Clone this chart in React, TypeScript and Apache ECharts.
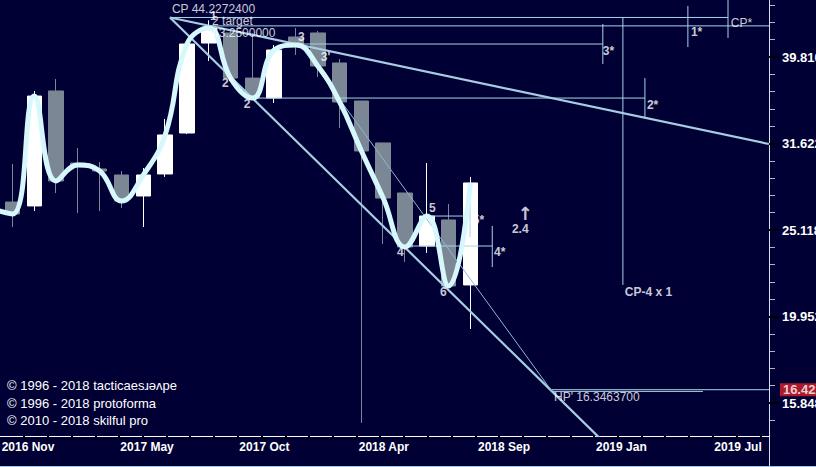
import React, { useEffect, useRef } from "react";
import * as echarts from "echarts";

// ---- candle data (4-week candles, index 0..21) ----
const candleIndex = [0, 1, 2, 3, 4, 5, 6, 7, 8, 9, 10, 11, 12, 13, 14, 15, 16, 17, 18, 19, 20, 21];
const opens = [27.06, 26.78, 36.37, 30.02, 29.55, 29.08, 27.5, 29.16, 32.52, 41.32, 42.44, 37.64, 35.69, 41.99, 42.44, 39.18, 35.41, 31.67, 27.72, 24.07, 25.8, 21.7];
const closes = [26.21, 35.88, 28.62, 29.86, 29.39, 27.14, 29.08, 32.35, 41.21, 43.0, 37.64, 35.69, 40.56, 41.1, 38.87, 35.32, 31.0, 27.35, 24.01, 26.07, 21.64, 28.47];
const lows = [25.32, 26.42, 27.72, 26.28, 26.42, 26.63, 25.32, 28.93, 32.43, 39.39, 37.45, 35.5, 35.22, 40.02, 37.75, 32.96, 15.03, 24.2, 23.07, 23.63, 21.59, 19.3];
const highs = [29.95, 36.37, 37.55, 31.25, 30.1, 29.39, 29.63, 33.76, 41.65, 43.9, 42.78, 42.44, 41.1, 43.01, 42.66, 39.6, 35.41, 31.67, 27.72, 30.02, 26.92, 28.93];
const priorClose = [-1, 26.6];

// ---- axes ----
const xMin = -0.573;
const xMax = 34.69;
const xLabelTexts = ["2016 Nov", "2017 May", "2017 Oct", "2018 Apr", "2018 Sep", "2019 Jan", "2019 Jul"];
const xLabelPositions = [0.71, 6.17, 11.55, 17.03, 22.54, 27.92, 33.27];
const xTickPositions = [0.53, 1.62, 2.71, 3.8, 4.88, 5.97, 7.06, 8.15, 9.24, 10.33, 11.42, 12.51, 13.6, 14.69, 15.78, 16.86, 17.95, 19.04, 20.13, 21.22, 22.31, 23.4, 24.49, 25.58, 26.67, 27.76, 28.84, 29.93, 31.02, 32.11, 33.2, 34.29];
const yLogMin = 1.16185;
const yLogMax = 1.6659;
const yMajorTicks = [1.2, 1.3, 1.4, 1.5, 1.6];
const yMinorTicks = [1.18, 1.22, 1.24, 1.26, 1.28, 1.32, 1.34, 1.36, 1.38, 1.42, 1.44, 1.46, 1.48, 1.52, 1.54, 1.56, 1.58, 1.62, 1.64, 1.66];

// ---- annotation anchors: [index, price] ----
const cpPoint = [7.22, 44.22724];
const hpPoint = [24.74, 16.34637];
const threePoint = [13.09, 41.43];
const fanEnd = [34.69, 31.58];
const lowLineEndIndex = 27.6;

const levelLines = [
  [[7.22, 44.22724], [32.81, 44.22724]],
  [[9.0, 43.25], [34.69, 43.25]],
  [[13.0, 41.21], [27.07, 41.21]],
  [[11.0, 35.69], [29.0, 35.69]],
  [[19.0, 26.07], [20.98, 26.07]],
  [[17.77, 24.07], [22.0, 24.07]],
  [[24.74, 16.42], [34.69, 16.42]],
  [[24.74, 16.34637], [31.66, 16.34637]],
  [[32.81, 46.6], [32.81, 41.88]],
  [[30.97, 45.6], [30.97, 40.88]],
  [[27.07, 43.47], [27.07, 39.08]],
  [[29.0, 37.64], [29.0, 33.84]],
  [[27.99, 44.22724], [27.99, 21.7]],
  [[20.98, 27.42], [20.98, 24.65]],
  [[22.0, 25.39], [22.0, 22.76]],
];

// labels: [index, price, text]
const regularLabels: [number, number, string][] = [
  [7.31, 45.24, "CP 44.2272400"],
  [9.15, 43.76, "2 target"],
  [9.15, 42.49, "43.2500000"],
  [32.94, 43.58, "CP*"],
  [24.83, 16.1, "HP' 16.3463700"],
];
const boldLabels: [number, number, string][] = [
  [9.06, 44.4, "1"],
  [9.61, 37.15, "2'"],
  [10.61, 35.13, "2"],
  [13.09, 41.99, "3"],
  [14.14, 39.81, "3'"],
  [17.63, 23.69, "4"],
  [19.1, 26.6, "5"],
  [19.6, 21.3, "6"],
  [22.08, 23.69, "4*"],
  [22.9, 25.18, "2.4"],
  [28.08, 21.3, "CP-4 x 1"],
  [27.07, 40.45, "3*"],
  [29.09, 35.03, "2*"],
  [31.11, 42.55, "1*"],
];
const hiddenLabel: [number, number, string] = [21.11, 25.8, "5*"];
const arrowLabel: [number, number, string] = [23.5, 26.28, "↑"];
const lastPriceLabel: [number, number, string] = [35.19, 16.42, "16.422"];

const copyrights = ["© 1996 - 2018 tacticaesɹəʌpe", "© 1996 - 2018 protoforma", "© 2010 - 2018 skilful pro"];

const lg = (p: number) => Math.log10(p);
const FONT = '"Liberation Sans", Arial, sans-serif';

function lineSeries(pts: number[][], color: string, width: number, z: number) {
  return {
    type: "line",
    data: pts.map(([i, p]) => [i, lg(p)]),
    symbol: "none",
    lineStyle: { color, width },
    z,
    silent: true,
    clip: true,
  };
}

function labelSeries(items: [number, number, string][], bold: boolean, z: number, extra: any = {}) {
  return {
    type: "scatter",
    symbolSize: 1,
    itemStyle: { color: "rgba(0,0,0,0)" },
    silent: true,
    clip: false,
    z,
    data: items.map(([i, p, t]) => ({ value: [i, lg(p)], label: { formatter: t } })),
    label: {
      show: true,
      position: "inside",
      align: "left",
      verticalAlign: "middle",
      color: "#ffffff",
      fontSize: 12,
      fontWeight: bold ? "bold" : "normal",
      fontFamily: FONT,
      ...extra,
    },
  };
}

export default function App() {
  const ref = useRef<HTMLDivElement>(null);
  useEffect(() => {
    if (!ref.current) return;
    const chart = echarts.init(ref.current, undefined, { renderer: "svg" });

    const slope = (lg(hpPoint[1]) - lg(cpPoint[1])) / (hpPoint[0] - cpPoint[0]);
    const lowLineEnd = [lowLineEndIndex, Math.pow(10, lg(cpPoint[1]) + slope * (lowLineEndIndex - cpPoint[0]))];

    const candleData = candleIndex.map((i, k) => [i, lg(opens[k]), lg(closes[k]), lg(lows[k]), lg(highs[k])]);
    const curveData = [[priorClose[0], lg(priorClose[1])], ...candleIndex.map((i, k) => [i, lg(closes[k])])];

    const series: any[] = [
      labelSeries([hiddenLabel], true, 1),
      {
        type: "candlestick",
        data: candleData,
        encode: { x: 0, y: [1, 2, 3, 4] },
        barWidth: 15,
        z: 2,
        silent: true,
        itemStyle: {
          color: "#ffffff",
          color0: "#7b8795",
          borderColor: "#ffffff",
          borderColor0: "#7b8795",
          borderWidth: 1,
        },
      },
      ...levelLines.map((seg) => lineSeries(seg, "#a9d3e6", 1, 3)),
      lineSeries([cpPoint, hpPoint, lowLineEnd], "#a6cde0", 2.2, 3),
      lineSeries([cpPoint, fanEnd], "#a6cde0", 2.2, 3),
      lineSeries([threePoint, hpPoint], "#8fb8cc", 1, 3),
      {
        type: "line",
        data: curveData,
        smooth: 0.45,
        symbol: "none",
        lineStyle: { color: "#d6f7fc", width: 5 },
        z: 4,
        silent: true,
      },
      labelSeries(regularLabels, false, 6),
      labelSeries(boldLabels, true, 6),
      labelSeries([arrowLabel], true, 6, { align: "center", fontSize: 18, fontFamily: '"DejaVu Sans", sans-serif' }),
      labelSeries([lastPriceLabel], true, 6, {
        fontSize: 13,
        backgroundColor: "#d8202c",
        padding: [0, 3, 0, 3],
        lineHeight: 13,
      }),
    ];

    const gridBox = { left: 0, top: 0, right: 47, bottom: 31, containLabel: false, outerBoundsMode: "none" };

    chart.setOption({
      animation: false,
      backgroundColor: "#000034",
      grid: [gridBox, { ...gridBox }],
      xAxis: [
        {
          type: "value",
          gridIndex: 0,
          min: xMin,
          max: xMax,
          splitLine: { show: false },
          axisLine: { show: true, onZero: false, lineStyle: { color: "#ffffff", width: 1 } },
          axisTick: { show: true, customValues: xTickPositions, length: 3, lineStyle: { color: "#000000", width: 2 } },
          axisLabel: {
            show: true,
            customValues: xLabelPositions,
            formatter: (v: number) => {
              const k = xLabelPositions.findIndex((p) => Math.abs(p - v) < 1e-6);
              return k >= 0 ? xLabelTexts[k] : "";
            },
            color: "#ffffff",
            fontWeight: "bold",
            fontSize: 12,
            fontFamily: FONT,
            margin: 5,
          },
        },
        { type: "value", gridIndex: 1, min: xMin, max: xMax, show: false, axisLine: { onZero: false } },
      ],
      yAxis: [
        {
          type: "value",
          gridIndex: 0,
          position: "right",
          min: yLogMin,
          max: yLogMax,
          splitLine: { show: false },
          axisLine: { show: true, onZero: false, lineStyle: { color: "#d4e2ee", width: 1 } },
          axisTick: { show: true, customValues: yMajorTicks, length: 10, lineStyle: { color: "#000000", width: 2 } },
          axisLabel: {
            show: true,
            customValues: yMajorTicks,
            formatter: (v: number) => (Math.floor(Math.pow(10, v) * 1000 + 1e-6) / 1000).toFixed(3),
            color: "#ffffff",
            fontWeight: "bold",
            fontSize: 13,
            fontFamily: FONT,
            margin: 13,
            align: "left",
          },
          z: 3,
        },
        {
          type: "value",
          gridIndex: 1,
          position: "right",
          min: yLogMin,
          max: yLogMax,
          splitLine: { show: false },
          axisLine: { show: false, onZero: false },
          axisTick: { show: true, customValues: yMinorTicks, length: 6, lineStyle: { color: "#aab8c8", width: 1 } },
          axisLabel: { show: false },
          z: 2,
        },
      ],
      series,
      graphic: [
        ...copyrights.map((t, k) => ({
          type: "text",
          left: 7,
          top: 379 + k * 17.5,
          style: { text: t, fill: "#ffffff", fontSize: 13, fontFamily: FONT },
          z: 10,
        })),
        { type: "line", shape: { x1: 769.5, y1: 436, x2: 769.5, y2: 466 }, style: { stroke: "#d4e2ee", lineWidth: 1 } },
        { type: "line", shape: { x1: 0, y1: 466.5, x2: 816, y2: 466.5 }, style: { stroke: "#9cc8e0", lineWidth: 1 } },
      ],
    });
    return () => chart.dispose();
  }, []);
  return <div ref={ref} style={{ position: "absolute", left: 0, top: 0, width: 816, height: 467 }} />;
}
